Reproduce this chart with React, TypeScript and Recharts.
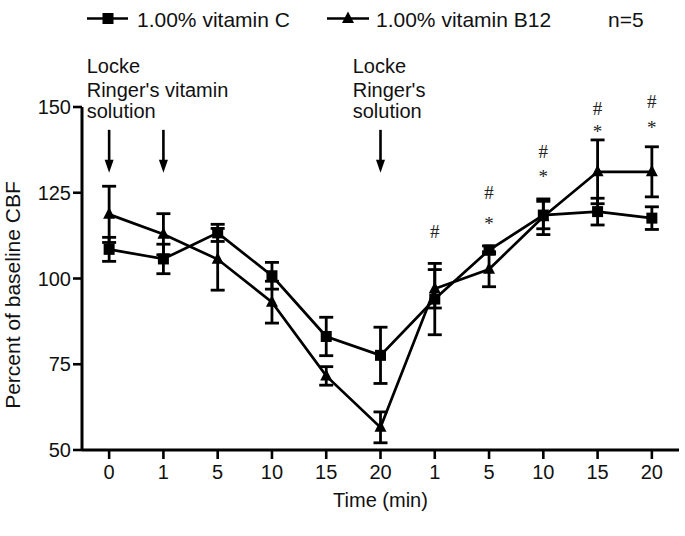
import React from "react";
import { LineChart, Line, XAxis, YAxis, ErrorBar, ReferenceDot } from "recharts";

const timeLabels = ["0", "1", "5", "10", "15", "20", "1", "5", "10", "15", "20"];
const vitaminC = [108.5, 105.7, 113.3, 100.8, 83.1, 77.6, 94.0, 108.3, 118.5, 119.5, 117.6];
const vitaminCErr = [3.5, 4.3, 2.5, 3.9, 5.6, 8.2, 10.4, 1.2, 4.0, 3.9, 3.3];
const vitaminB12 = [118.7, 112.9, 105.6, 93.1, 71.6, 56.6, 97.0, 102.7, 118.0, 131.1, 131.1];
const vitaminB12Err = [8.2, 6.0, 9.0, 6.1, 2.7, 4.5, 5.6, 5.1, 5.2, 9.3, 7.3];

// arrows mark when solutions were applied (tip value on the y scale)
const arrowAt = [0, 1, 5];
const arrowTip = 130.8;

// significance marks: category index, y value of glyph centre
const hashMarks = [
  { i: 6, y: 113.6 },
  { i: 7, y: 124.9 },
  { i: 8, y: 137.0 },
  { i: 9, y: 149.4 },
  { i: 10, y: 151.5 },
];
const starMarks = [
  { i: 7, y: 116.8 },
  { i: 8, y: 130.5 },
  { i: 9, y: 143.6 },
  { i: 10, y: 144.8 },
];

const yTicks = [50, 75, 100, 125, 150];

const data = timeLabels.map((t, i) => ({
  idx: i,
  label: t,
  c: vitaminC[i],
  cErr: vitaminCErr[i],
  b12: vitaminB12[i],
  b12Err: vitaminB12Err[i],
}));

const FONT = "'Liberation Sans', Arial, sans-serif";
const SERIF = "'Liberation Serif', 'Times New Roman', serif";

const SquareDot = (p: any) => (
  <rect key={`sq-${p.index}`} x={p.cx - 5.5} y={p.cy - 5.5} width={11} height={11} fill="#000" />
);

const TriDot = (p: any) => (
  <polygon
    key={`tr-${p.index}`}
    points={`${p.cx},${p.cy - 7} ${p.cx - 6},${p.cy + 4.5} ${p.cx + 6},${p.cy + 4.5}`}
    fill="#000"
  />
);

const Arrow = (p: any) => (
  <g>
    <line x1={p.cx} y1={p.cy - 43} x2={p.cx} y2={p.cy - 11} stroke="#000" strokeWidth={2.6} />
    <polygon points={`${p.cx - 4.5},${p.cy - 13} ${p.cx + 4.5},${p.cy - 13} ${p.cx},${p.cy}`} fill="#000" />
  </g>
);

const Hash = (p: any) => (
  <text x={p.cx} y={p.cy + 6} textAnchor="middle" fontFamily={SERIF} fontSize={19} fill="#222">
    #
  </text>
);

const Star = (p: any) => (
  <text x={p.cx} y={p.cy + 9} textAnchor="middle" fontFamily={SERIF} fontSize={19} fill="#222">
    *
  </text>
);

export default function App() {
  return (
    <div style={{ position: "absolute", left: 0, top: 0, width: 685, height: 536, background: "#fff" }}>
      <LineChart width={685} height={536} data={data} margin={{ top: 107, right: 6, bottom: 0, left: 0 }}>
        <XAxis
          dataKey="idx"
          type="number"
          domain={[-0.5, 10.5]}
          ticks={data.map((d) => d.idx)}
          tickFormatter={(v: number) => timeLabels[v]}
          height={86}
          axisLine={{ stroke: "#000", strokeWidth: 3 }}
          tickLine={{ stroke: "#000", strokeWidth: 2.6 }}
          tickSize={9}
          tickMargin={6}
          tick={{ fill: "#111", fontSize: 20, fontFamily: FONT }}
          label={{ value: "Time (min)", position: "insideBottom", offset: 29, fill: "#111", fontSize: 20, fontFamily: FONT }}
        />
        <YAxis
          domain={[50, 150]}
          ticks={yTicks}
          width={82}
          axisLine={{ stroke: "#000", strokeWidth: 3 }}
          tickLine={{ stroke: "#000", strokeWidth: 2.6 }}
          tickSize={9}
          tickMargin={2}
          tick={{ fill: "#111", fontSize: 20, fontFamily: FONT }}
        />
        <Line
          dataKey="c"
          stroke="#000"
          strokeWidth={2.7}
          dot={SquareDot}
          activeDot={false}
          isAnimationActive={false}
        >
          <ErrorBar dataKey="cErr" direction="y" width={7} strokeWidth={2.8} stroke="#000" isAnimationActive={false} />
        </Line>
        <Line
          dataKey="b12"
          stroke="#000"
          strokeWidth={2.7}
          dot={TriDot}
          activeDot={false}
          isAnimationActive={false}
        >
          <ErrorBar dataKey="b12Err" direction="y" width={7} strokeWidth={2.8} stroke="#000" isAnimationActive={false} />
        </Line>
        {arrowAt.map((i) => (
          <ReferenceDot key={`ar-${i}`} x={i} y={arrowTip} r={0} shape={Arrow} ifOverflow="visible" />
        ))}
        {hashMarks.map((m) => (
          <ReferenceDot key={`h-${m.i}`} x={m.i} y={m.y} r={0} shape={Hash} ifOverflow="visible" />
        ))}
        {starMarks.map((m) => (
          <ReferenceDot key={`s-${m.i}`} x={m.i} y={m.y} r={0} shape={Star} ifOverflow="visible" />
        ))}
      </LineChart>
      <svg
        width={685}
        height={536}
        style={{ position: "absolute", left: 0, top: 0, pointerEvents: "none" }}
        fontFamily={FONT}
      >
        <line x1={87} y1={18.5} x2={128} y2={18.5} stroke="#000" strokeWidth={2.7} />
        <rect x={102.5} y={13} width={11} height={11} fill="#000" />
        <text x={137} y={27} fontSize={21} fill="#111">1.00% vitamin C</text>
        <line x1={327} y1={18.5} x2={369} y2={18.5} stroke="#000" strokeWidth={2.7} />
        <polygon points="348,11.5 342,23 354,23" fill="#000" />
        <text x={376} y={27} fontSize={21} fill="#111">1.00% vitamin B12</text>
        <text x={608} y={27} fontSize={21} fill="#111">n=5</text>

        <text x={86.7} fontSize={20} fill="#111">
          <tspan x={86.7} y={73.3}>Locke</tspan>
          <tspan x={86.7} y={96.7}>Ringer's vitamin</tspan>
          <tspan x={86.7} y={118.3}>solution</tspan>
        </text>
        <text x={352.7} fontSize={20} fill="#111">
          <tspan x={352.7} y={73.3}>Locke</tspan>
          <tspan x={352.7} y={96.7}>Ringer's</tspan>
          <tspan x={352.7} y={118.3}>solution</tspan>
        </text>

        <text x={20} y={295} fontSize={21} fill="#111" textAnchor="middle" transform="rotate(-90 20 295)">
          Percent of baseline CBF
        </text>
      </svg>
    </div>
  );
}
